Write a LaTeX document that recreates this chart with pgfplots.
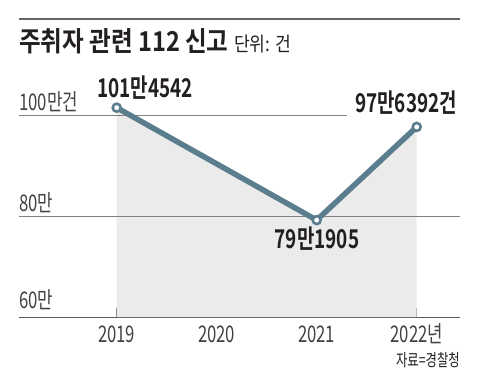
\documentclass[border=0pt]{standalone}
\usepackage{pgfplots}
\pgfplotsset{compat=1.18}
\usepackage{fontspec}
\setmainfont{Noto Sans CJK KR}[BoldFont={Noto Sans CJK KR Bold}, FakeStretch=0.73]
\newfontfamily\krt{Noto Sans CJK KR}[BoldFont={Noto Sans CJK KR Bold}, FakeStretch=0.86]
\definecolor{linec}{HTML}{5B7E8E}
\definecolor{fillc}{HTML}{EBEBEB}
\definecolor{gridc}{HTML}{808080}
\definecolor{txtc}{HTML}{231F20}
\begin{document}
\begin{tikzpicture}[x=1bp,y=1bp]
\useasboundingbox (0,0) rectangle (480,384);
\draw[color=gridc!80!black, line width=1.2bp] (19,365) -- (460,365);
\node[anchor=base west, inner sep=0pt, text=txtc] at (19,333) {\krt\fontsize{27.5}{30}\selectfont\bfseries 주취자 관련 112 신고\ \mdseries\fontsize{20}{23}\selectfont 단위: 건};
\node[anchor=base east, inner sep=0pt, text=txtc] at (460,18) {\fontsize{17}{20}\selectfont 자료=경찰청};
\begin{axis}[
  at={(19bp,67bp)}, anchor=south west,
  scale only axis, width=441bp, height=202bp,
  xmin=2018.023, xmax=2022.433, ymin=60, ymax=100,
  clip=false,
  axis x line=bottom, axis y line=none,
  x axis line style={-, color=gridc!70!black, line width=1bp},
  xtick={2019,2020,2021,2022},
  xticklabels={2019,2020,2021,2022년},
  tick align=inside, major tick length=9bp,
  x tick style={color=gridc!70!black, line width=1bp},
  xticklabel style={anchor=base, inner sep=0pt, yshift=-25bp, font=\fontsize{23}{26}\selectfont, text=txtc!85!white},
  ytick=\empty,
]
\addplot[fill=fillc, draw=none] coordinates {(2019,60) (2019,101.4542) (2021,79.1905) (2022,97.6392) (2022,60)} -- cycle;
\draw[color=gridc, line width=1bp] (axis cs:2018.023,80) -- (axis cs:2022.433,80);
\draw[color=gridc, line width=1bp] (axis cs:2018.023,100) -- (axis cs:2021.30,100);
\addplot[color=linec, line width=5.5bp, mark=*, mark size=4bp, mark options={fill=white, draw=linec, line width=2.6bp}] coordinates {(2019,101.4542) (2021,79.1905) (2022,97.6392)};
\node[anchor=base west, inner sep=0pt, text=txtc!85!white, font=\fontsize{23}{26}\selectfont] at (axis cs:2018.023,100.99) {100만건};
\node[anchor=base west, inner sep=0pt, text=txtc!85!white, font=\fontsize{23}{26}\selectfont] at (axis cs:2018.023,80.99) {80만};
\node[anchor=base west, inner sep=0pt, text=txtc!85!white, font=\fontsize{23}{26}\selectfont] at (axis cs:2018.023,61.78) {60만};
\node[anchor=base, inner sep=0pt, text=txtc, font=\fontsize{26}{29}\selectfont\bfseries] at (axis cs:2019.283,103.56) {101만4542};
\node[anchor=base, inner sep=0pt, text=txtc, font=\fontsize{26}{29}\selectfont\bfseries] at (axis cs:2021.893,100.59) {97만6392건};
\node[anchor=base, inner sep=0pt, text=txtc, font=\fontsize{26}{29}\selectfont\bfseries] at (axis cs:2021.003,73.47) {79만1905};
\end{axis}
\end{tikzpicture}
\end{document}
